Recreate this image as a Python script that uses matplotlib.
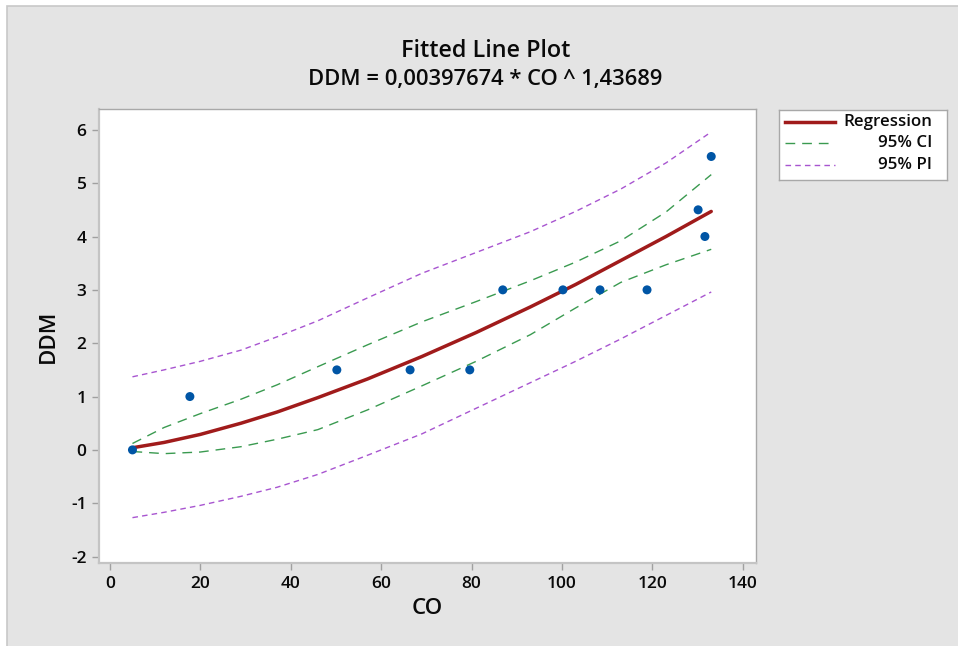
import matplotlib
matplotlib.use("Agg")
import matplotlib.pyplot as plt
from matplotlib.patches import Rectangle

plt.rcParams['font.family'] = ['Open Sans', 'DejaVu Sans']
plt.rcParams['axes.unicode_minus'] = False

# observed points
co_obs = [5, 17.7, 50.2, 66.4, 79.6, 86.9, 100.2, 108.4, 118.8, 130.1, 131.6, 133]
ddm_obs = [0, 1, 1.5, 1.5, 1.5, 3, 3, 3, 3, 4.5, 4, 5.5]

# fitted curve and bands
co_grid = [5, 12, 20, 29, 37, 46, 57, 69, 81, 93, 103, 113, 123, 133]
fit_vals = [0.04, 0.14, 0.29, 0.50, 0.71, 0.98, 1.33, 1.75, 2.20, 2.68, 3.10, 3.55, 4.00, 4.47]
ci_high = [0.12, 0.42, 0.68, 0.95, 1.22, 1.56, 1.97, 2.40, 2.78, 3.17, 3.52, 3.92, 4.46, 5.16]
ci_low = [-0.03, -0.07, -0.04, 0.06, 0.20, 0.38, 0.75, 1.20, 1.66, 2.16, 2.66, 3.14, 3.47, 3.76]
pi_high = [1.37, 1.50, 1.66, 1.87, 2.12, 2.42, 2.85, 3.31, 3.70, 4.09, 4.47, 4.89, 5.38, 5.96]
pi_low = [-1.27, -1.17, -1.04, -0.87, -0.70, -0.46, -0.10, 0.30, 0.78, 1.26, 1.66, 2.08, 2.52, 2.96]

title1 = 'Fitted Line Plot'
title2 = 'DDM = 0,00397674 * CO ^ 1,43689'

RED = '#a01b1b'
GREEN = '#3a9a50'
PURPLE = '#a855d0'
BLUE = '#0055a5'
BG = '#e4e4e4'
TXT = '#0a0a0a'

W, H = 958, 646
fig = plt.figure(figsize=(W / 100, H / 100), dpi=100, facecolor='white')
fig.patches.append(Rectangle((7 / W, -0.01), 1.0, (H - 6) / H + 0.01, transform=fig.transFigure,
                             facecolor=BG, edgecolor='#c8c8c8', lw=1.2, zorder=-10))

ax = fig.add_axes([99 / W, 83 / H, 657 / W, 454 / H])
ax.set_facecolor('white')

ax.plot(co_grid, pi_high, color=PURPLE, lw=1, dashes=(4, 3))
ax.plot(co_grid, pi_low, color=PURPLE, lw=1, dashes=(4, 3))
ax.plot(co_grid, ci_high, color=GREEN, lw=1, dashes=(7, 5))
ax.plot(co_grid, ci_low, color=GREEN, lw=1, dashes=(7, 5))
ax.plot(co_grid, fit_vals, color=RED, lw=2.5, solid_capstyle='round')
ax.scatter(co_obs, ddm_obs, s=42, color=BLUE, zorder=5, edgecolors='none')

ax.set_xlim(-2.4, 142.9)
ax.set_ylim(-2.12, 6.39)
ax.set_xticks([0, 20, 40, 60, 80, 100, 120, 140])
ax.set_yticks([-2, -1, 0, 1, 2, 3, 4, 5, 6])
ax.tick_params(axis='both', direction='out', length=5, width=1, color='#a0a0a0',
               labelsize=12.5, labelcolor=TXT, pad=4)
for t in ax.get_xticklabels() + ax.get_yticklabels():
    t.set_fontweight('semibold')

for side in ['left', 'bottom']:
    ax.spines[side].set_color('#c4c4c4')
    ax.spines[side].set_linewidth(1.6)
for side in ['top', 'right']:
    ax.spines[side].set_color('#a8a8a8')
    ax.spines[side].set_linewidth(1.0)

ax.set_xlabel('CO', fontsize=16, labelpad=5, fontweight='semibold', color=TXT)
ax.set_ylabel('DDM', fontsize=16, labelpad=9, fontweight='semibold', color=TXT)

fig.text(486 / W, 1 - 51 / H, title1, ha='center', va='center', fontsize=16.8, color=TXT,
         fontweight='semibold')
fig.text(485 / W, 1 - 80 / H, title2, ha='center', va='center', fontsize=15.8, color=TXT,
         fontweight='semibold')

# legend drawn in its own little box
lg = fig.add_axes([779 / W, 466 / H, 168 / W, 70 / H])
lg.set_xlim(0, 1)
lg.set_ylim(0, 1)
lg.set_xticks([])
lg.set_yticks([])
lg.set_facecolor('white')
for s in lg.spines.values():
    s.set_color('#a8a8a8')
    s.set_linewidth(1.0)
labels = ['Regression', '95% CI', '95% PI']
rows = [0.833, 0.533, 0.214]
lg.plot([0.036, 0.333], [rows[0]] * 2, color=RED, lw=2.5)
lg.plot([0.036, 0.333], [rows[1]] * 2, color=GREEN, lw=1, dashes=(7, 5))
lg.plot([0.036, 0.333], [rows[2]] * 2, color=PURPLE, lw=1, dashes=(4, 3))
for lab, yy in zip(labels, rows):
    lg.text(0.91, yy, lab, ha='right', va='center', fontsize=12.2, color=TXT,
            fontweight='semibold')

fig.savefig('out.png', dpi=100, facecolor=fig.get_facecolor())
